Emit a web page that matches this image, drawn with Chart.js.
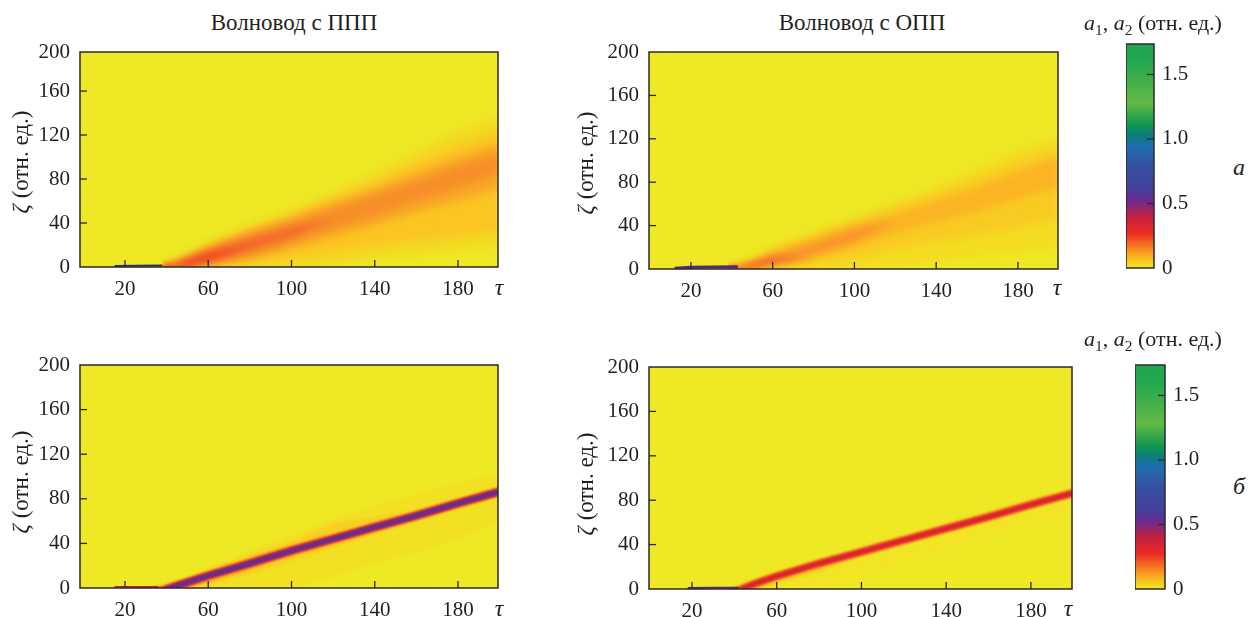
<!DOCTYPE html>
<html lang="ru"><head><meta charset="utf-8">
<style>
html,body{margin:0;padding:0;background:#fff;overflow:hidden;width:1253px;height:617px}
canvas{position:absolute}
.t{position:absolute;font-family:"Liberation Serif",serif;color:#231f20;white-space:nowrap;transform:translate(-50%,-50%);line-height:1}
.t sub{font-size:70%;line-height:0}
</style>
<script src="https://cdn.jsdelivr.net/npm/chart.js@4/dist/chart.umd.min.js"></script>
</head><body>
<script>
// ---- shared axis content
const tauTicks=[20,60,100,140,180];
const zetaTicks=[0,40,80,120,160,200];
const barTicks=[0,0.5,1,1.5];
const tauGrid=[38,44,50,60,80,100,120,140,160,180,200];

// ---- colour scale (value -> colour)
const scaleValues=[0,0.02,0.116,0.27,0.40,0.52,0.61,0.79,0.94,1.03,1.11,1.28,1.43,1.61,1.74];
const scaleColors=['#f0e620','#f5dc20','#f9a01e','#ee2a24','#c3203f','#6d2a8f','#44409a','#35509f','#1f6db0','#0a7d7a','#11974e','#63bb47','#45b04a','#1fa84e','#22a550'];

// ---- panel a, left: contours of equal amplitude, zeta(tau) upper and lower edges
const a1Up1=[0,6,12,23,38,52,68,86,105,124,137],   a1Low1=[-6,-6,-6,-6,-6,-6,0,8,12,16,20];
const a1Up2=[0,5,10,20,35,48,63,77,94,110,124],    a1Low2=[-6,-6,-4,0,3,8,14,20,24,28,33];
const a1Up3=[0,4,9,18,32,44,58,71,86,100,112],     a1Low3=[-6,-4,-2,2,7,17,28,38,50,60,72];
const a1Up4=[0,3,8,16,29,41,53,66,78,92,103],      a1Low4=[-6,-2,0,3,10,22,34,47,60,72,85];
const a1Up5=[0,2,6.5,14,26,36,44,44,44,44,44],     a1Low5=[-6,-1.5,1,5,15,27,44,44,44,44,44];
const a1Up6=[0,1,5,11.5,19,19,19,19,19,19,19],     a1Low6=[-6,-1,1,6.5,19,19,19,19,19,19,19];
const a1Colors=['#f3d923','#fbc522','#f8a726','#f68f28','#f4692a','#ec3724'];

// ---- panel a, right
const a2Up1=[0,3,9,20,34,48,62,76,93,110,121],     a2Low1=[-6,-6,-6,-6,-6,-3,2,7,12,16,20];
const a2Up2=[0,2,8,18,31,44,57,70,84,100,112],     a2Low2=[-6,-6,-3,0,4,10,19,26,31,38,46];
const a2Up3=[0,1,6,15,27,40,51,63,75,90,104],      a2Low3=[-6,-3,0,3,11,21,33,43,53,65,75];
const a2Up4=[0,.5,5,13,24,37,44,44,44,44,44],      a2Low4=[-6,-2,1,5,13,25,44,44,44,44,44];
const a2Up5=[1.5,2,5,10,10,10,10,10,10,10,10],     a2Low5=[-6,-1,1,6,10,10,10,10,10,10,10];
const a2Colors=['#f3dc22','#f9cb22','#fbb424','#f8962a','#ee4a2a'];

// ---- panel b, left
const b1Up1=[0,3,9,19,33,47,62,74,84,94,102],      b1Low1=[-6,-6,-6,-6,-6,0,10,22,32,44,60];
const b1Up2=[0,2,7,16,30,42,58,64,70,80,90],       b1Low2=[-6,-3,0,3,12,24,36,48,60,72,84];
const b1Up3=[0,1,6,14,27,38,48,57,66,77,87],       b1Low3=[-6,-2,1,5,17,29,41,52,64,75,85];
const b1Colors=['#f2e123','#f8d024','#f9ae26'];

// ---- panel b, right
const b2Up1=[0,2,6,14,24,36,48,60,70,82,92],       b2Low1=[-6,-6,-6,-6,0,10,24,36,46,58,70];
const b2Up2=[0,.5,6,14,24,35,45,54,65,76,87],      b2Low2=[-6,-2,-2,5,15,30,45,54,65,76,87];
const b2Colors=['#f1e526','#f8cf24'];

// ---- ridge lines: tau and zeta along the sharp front
const b1RidgeTau=[28,38,45,50,60,80,100,120,140,160,180,200];
const b1RidgeZeta=[-5,-2.5,2,5,11,22,33.5,44,54.5,65,76,86.5];
const b2RidgeTau=[36,42,46,50,60,80,100,120,140,160,180,200];
const b2RidgeZeta=[-5,-1.5,2,5,11.5,23,33.5,44,54.5,65,76,86.5];
const a1TailTau=[15,25,38], a1TailZeta=[.8,1.1,1.3];
const a2TailTau=[12,20,30,43], a2TailZeta=[.8,1.5,1.8,2];
const b1TailTau=[15,25,36], b1TailZeta=[.8,.9,.9];
const b2TailTau=[18,30,42], b2TailZeta=[.8,1.2,1.2];

function xy(xs,ys){return xs.map((x,i)=>({x,y:ys[i]}));}
function band(up,low,color){
  return [
    {data:xy(tauGrid,up),borderWidth:0,pointRadius:0,tension:0,backgroundColor:color,fill:'+1'},
    {data:xy(tauGrid,low),borderWidth:0,pointRadius:0,tension:0,fill:false}
  ];
}
function line(xs,ys,color,w){
  return {data:xy(xs,ys),borderColor:color,borderWidth:w,pointRadius:0,tension:0,fill:false,borderCapStyle:'butt'};
}
function tail(xs,ys,color,w){
  return Object.assign(line(xs,ys,color,w),{sharp:true});
}

const INK='#2b2a29';
Chart.defaults.font.family='"Liberation Serif", serif';
Chart.defaults.color='#231f20';
Chart.defaults.animation=false;

const heatPlugin={
  id:'heat',
  beforeDatasetsDraw(c,a,o){
    const {ctx,chartArea:r}=c;
    ctx.save();
    ctx.fillStyle='#eee825';
    ctx.fillRect(r.left,r.top,r.width,r.height);
    ctx.filter='blur('+o.blur+'px)';
  },
  // the tails come first in each dataset list, so they are painted last
  beforeDatasetDraw(c,a){
    if(c.data.datasets[a.index].sharp)c.ctx.filter='none';
  },
  afterDatasetsDraw(c){c.ctx.restore();},
  afterDraw(c){
    const {ctx,chartArea:r,scales:{x,y}}=c;
    ctx.save();
    ctx.strokeStyle=INK;ctx.lineWidth=1.5;
    ctx.strokeRect(r.left,r.top,r.width,r.height);
    ctx.lineWidth=1.3;
    x.ticks.forEach((t,i)=>{
      const p=x.getPixelForTick(i);
      ctx.beginPath();ctx.moveTo(p,r.bottom);ctx.lineTo(p,r.bottom-7);ctx.stroke();
    });
    y.ticks.forEach((t,i)=>{
      if(i===0||i===y.ticks.length-1)return;
      const p=y.getPixelForTick(i);
      ctx.beginPath();ctx.moveTo(r.left,p);ctx.lineTo(r.left+7,p);ctx.stroke();
    });
    ctx.restore();
  }
};

function noPad(s){s.paddingTop=0;s.paddingBottom=0;s.paddingLeft=0;s.paddingRight=0;}

const W=80,H=40,T=14,R=8;
function panel(id,left,top,right,bottom,xMin,xMax,yMax,blur,datasets){
  const cv=document.createElement('canvas');
  cv.id=id;
  const cw=right-left+W+R, ch=bottom-top+T+H;
  cv.style.left=(left-W)+'px';cv.style.top=(top-T)+'px';
  cv.style.width=cw+'px';cv.style.height=ch+'px';
  cv.width=cw;cv.height=ch;
  document.body.appendChild(cv);
  new Chart(cv,{
    type:'line',
    data:{datasets},
    plugins:[heatPlugin],
    options:{
      responsive:false,
      layout:{padding:{top:T,right:R,left:0,bottom:0}},
      plugins:{legend:{display:false},tooltip:{enabled:false},heat:{blur}},
      scales:{
        x:{type:'linear',min:xMin,max:xMax,
           grid:{display:false,drawTicks:false},border:{display:false},
           afterBuildTicks:s=>{s.ticks=tauTicks.map(value=>({value}));},
           afterFit:s=>{s.height=H;noPad(s);},
           ticks:{autoSkip:false,maxRotation:0,padding:10,font:{size:21},callback:(v,i)=>String(tauTicks[i])}},
        y:{type:'linear',min:0,max:yMax,
           grid:{display:false,drawTicks:false},border:{display:false},
           // the reference's own top label sits on the frame edge even where the frame ends short of 200
           afterBuildTicks:s=>{s.ticks=zetaTicks.map(t=>({value:Math.min(t,yMax)}));},
           afterFit:s=>{s.width=W;noPad(s);},
           ticks:{autoSkip:false,padding:10,font:{size:21},callback:(v,i)=>String(zetaTicks[i])}}
      }
    }
  });
}

panel('a1',80,52,498,267,-1.6,199.2,195.5,3.5,[
  tail(a1TailTau,a1TailZeta,'#3b2a78',2),
  ...band(a1Up6,a1Low6,a1Colors[5]),
  ...band(a1Up5,a1Low5,a1Colors[4]),
  ...band(a1Up4,a1Low4,a1Colors[3]),
  ...band(a1Up3,a1Low3,a1Colors[2]),
  ...band(a1Up2,a1Low2,a1Colors[1]),
  ...band(a1Up1,a1Low1,a1Colors[0])
]);
panel('a2',649,52,1058,269,-0.5,199.6,200,3.5,[
  tail(a2TailTau,a2TailZeta,'#5a2678',3),
  ...band(a2Up5,a2Low5,a2Colors[4]),
  ...band(a2Up4,a2Low4,a2Colors[3]),
  ...band(a2Up3,a2Low3,a2Colors[2]),
  ...band(a2Up2,a2Low2,a2Colors[1]),
  ...band(a2Up1,a2Low1,a2Colors[0])
]);
panel('b1',80,365,498,588,-1.6,199.2,200,0.8,[
  tail(b1TailTau,b1TailZeta,'#c3203f',2),
  line(b1RidgeTau,b1RidgeZeta,'#4a3b9b',1.5),
  line(b1RidgeTau,b1RidgeZeta,'#6a2a90',3.5),
  line(b1RidgeTau,b1RidgeZeta,'#b51f4f',6),
  line(b1RidgeTau,b1RidgeZeta,'#e8352a',7.5),
  line(b1RidgeTau,b1RidgeZeta,'#f89a26',10),
  ...band(b1Up3,b1Low3,b1Colors[2]),
  ...band(b1Up2,b1Low2,b1Colors[1]),
  ...band(b1Up1,b1Low1,b1Colors[0])
]);
panel('b2',649,367,1072,589,-0.3,199.4,200,0.8,[
  tail(b2TailTau,b2TailZeta,'#5a2678',2),
  line(b2RidgeTau,b2RidgeZeta,'#d8232d',4.5),
  line(b2RidgeTau,b2RidgeZeta,'#ee4a26',6.5),
  line(b2RidgeTau,b2RidgeZeta,'#f9a026',9),
  ...band(b2Up2,b2Low2,b2Colors[1]),
  ...band(b2Up1,b2Low1,b2Colors[0])
]);

// ---- colour bars
const barFrame={
  id:'barFrame',
  afterDraw(c){
    const {ctx,chartArea:r,scales:{y}}=c;
    ctx.save();
    ctx.strokeStyle=INK;ctx.lineWidth=1.5;
    ctx.strokeRect(r.left,r.top,r.width,r.height);
    ctx.lineWidth=1.3;
    y.ticks.forEach((t,i)=>{
      if(t.value===0)return;
      const p=y.getPixelForTick(i);
      ctx.beginPath();ctx.moveTo(r.right,p);ctx.lineTo(r.right-7,p);ctx.stroke();
    });
    ctx.restore();
  }
};
function colorBar(id,left,top,right,bottom){
  const AX=56,PT=14,PB=16;
  const cv=document.createElement('canvas');
  cv.id=id;
  const cw=right-left+AX, ch=bottom-top+PT+PB;
  cv.style.left=left+'px';cv.style.top=(top-PT)+'px';
  cv.style.width=cw+'px';cv.style.height=ch+'px';
  cv.width=cw;cv.height=ch;
  document.body.appendChild(cv);
  new Chart(cv,{
    type:'bar',
    data:{labels:['a'],datasets:[{data:[[0,1.736]],barPercentage:1,categoryPercentage:1,
      backgroundColor(ctx){
        const {chart}=ctx;
        if(!chart.chartArea)return scaleColors[0];
        const y=chart.scales.y;
        const g=chart.ctx.createLinearGradient(0,y.getPixelForValue(0),0,y.getPixelForValue(1.736));
        scaleValues.forEach((v,i)=>g.addColorStop(Math.min(1,v/1.736),scaleColors[i]));
        return g;
      }}]},
    plugins:[barFrame],
    options:{
      responsive:false,
      layout:{padding:{top:PT,bottom:PB,left:0,right:0}},
      plugins:{legend:{display:false},tooltip:{enabled:false}},
      scales:{
        x:{display:false,offset:true},
        y:{position:'right',min:0,max:1.736,
           grid:{display:false,drawTicks:false},border:{display:false},
           afterBuildTicks:s=>{s.ticks=barTicks.map(value=>({value}));},
           afterFit:s=>{s.width=AX;noPad(s);},
           ticks:{autoSkip:false,padding:8,font:{size:21},callback:v=>v===0?'0':v.toFixed(1)}}
      }
    }
  });
}
colorBar('barA',1126,44,1154,268);
colorBar('barB',1135,365,1165,589);

// ---- text labels
const AMP='<i>a</i><sub>1</sub>, <i>a</i><sub>2</sub> (отн. ед.)';
const ZETA='<i>ζ</i> (отн. ед.)';
const labels=[
  ['Волновод с ППП',294,22,23,0],['Волновод с ОПП',862,22,23,0],
  [AMP,1153,23,22,0],[AMP,1153,339,22,0],
  [ZETA,20,162,23,-90],[ZETA,585,163,23,-90],[ZETA,20,482,23,-90],[ZETA,585,484,23,-90],
  ['<i>τ</i>',499,287,24,0],['<i>τ</i>',1057,287,24,0],['<i>τ</i>',499,608,24,0],['<i>τ</i>',1068,608,24,0],
  ['<i>а</i>',1239,167,24,0],['<i>б</i>',1239,486,24,0]
];
labels.forEach(([h,x,y,s,rot])=>{
  const d=document.createElement('div');
  d.className='t';d.innerHTML=h;
  d.style.left=x+'px';d.style.top=y+'px';d.style.fontSize=s+'px';
  if(rot)d.style.transform='translate(-50%,-50%) rotate('+rot+'deg)';
  document.body.appendChild(d);
});
</script>
</body></html>
